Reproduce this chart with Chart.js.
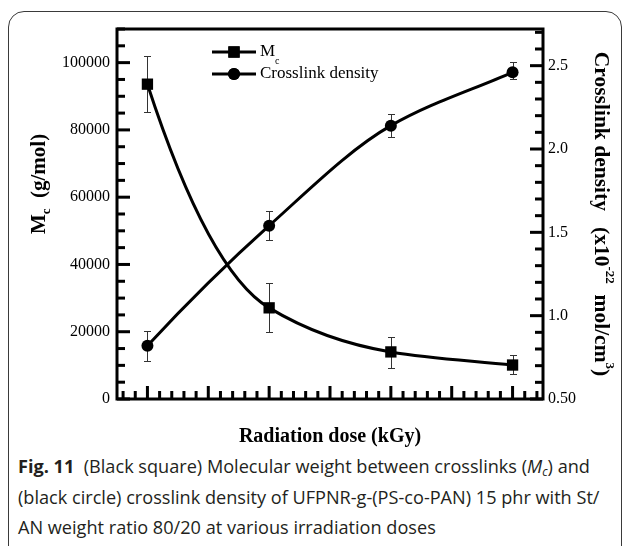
<!DOCTYPE html>
<html>
<head>
<meta charset="utf-8">
<script src="https://cdn.jsdelivr.net/npm/chart.js@4.4.1/dist/chart.umd.min.js"></script>
<style>
  html, body { margin: 0; padding: 0; background: #fff; }
  body { width: 630px; height: 546px; position: relative; overflow: hidden; }
  #frame {
    position: absolute; left: 8px; top: 11px; width: 614px; height: 580px;
    border: 1.5px solid #3a3a3a; border-radius: 16px; box-sizing: border-box;
  }
  #chartBox { position: absolute; left: 0; top: 0; width: 630px; height: 450px; }
  #caption {
    position: absolute; left: 18px; top: 451px;
    font-family: "Open Sans", sans-serif; font-size: 18px; line-height: 30.5px;
    color: #231f20; white-space: nowrap;
  }
  #caption span { display: block; }
  #caption sub { font-size: 0.65em; line-height: 0; vertical-align: -0.25em; }
</style>
</head>
<body>
<div id="frame"></div>
<div id="chartBox"><canvas id="doseChart" width="630" height="450"></canvas></div>
<div id="caption"><span id="capLine1"><b>Fig. 11</b>&nbsp; (Black square) Molecular weight between crosslinks (<i>M<sub>c</sub></i>) and</span><span>(black circle) crosslink density of UFPNR-g-(PS-co-PAN) 15 phr with St/</span><span>AN weight ratio 80/20 at various irradiation doses</span></div>
<script>
// Data
const doses = [0, 100, 200, 300];
const mcValues = [93600, 27100, 14000, 10100];
const mcErrLow = [85300, 19900, 9200, 7400];
const mcErrHigh = [102000, 34500, 18400, 13100];
const densityValues = [0.82, 1.54, 2.14, 2.46];
const densityErrLow = [0.73, 1.455, 2.07, 2.42];
const densityErrHigh = [0.91, 1.63, 2.21, 2.52];

// Tick labels
const xTickLabels = [0, 50, 100, 150, 200, 250, 300];
const leftTickLabels = [0, 20000, 40000, 60000, 80000, 100000];
const rightTickValues = [0.5, 1.0, 1.5, 2.0, 2.5];
const rightTickLabels = ["0.50", "1.0", "1.5", "2.0", "2.5"];

// Axis ranges
const xMin = -25, xMax = 325;
const leftMax = 110000;
const rightMin = 0.5, rightMax = 2.72;

const serif = "Liberation Serif";

// fit the caption's first line to the width it has in the figure
const capLine1 = document.getElementById("capLine1");
const caption = document.getElementById("caption");
const w1 = capLine1.getBoundingClientRect().width;
caption.style.fontSize = (18 * 582 / w1).toFixed(2) + "px";

// draws a run of text pieces (for sub/superscripts) centred on the current origin
function drawRuns(ctx, runs) {
  let total = 0;
  runs.forEach((r) => {
    ctx.font = r.font;
    total += ctx.measureText(r.text).width;
  });
  let x = -total / 2;
  runs.forEach((r) => {
    ctx.font = r.font;
    ctx.fillText(r.text, x, r.dy || 0);
    x += ctx.measureText(r.text).width;
  });
}

// smooth curve through the points (cubic Hermite, pixel space)
function drawSpline(ctx, pts) {
  const n = pts.length;
  const s = (i) => (pts[i + 1].y - pts[i].y) / (pts[i + 1].x - pts[i].x);
  const m = pts.map((p, i) => {
    if (i === 0 || i === n - 1) return 0;
    const a = s(i - 1), b = s(i);
    return a * b > 0 ? (2 * a * b) / (a + b) : 0;
  });
  m[0] = 2 * s(0) - m[1];
  m[n - 1] = s(n - 2);
  ctx.beginPath();
  ctx.moveTo(pts[0].x, pts[0].y);
  for (let i = 0; i < n - 1; i++) {
    const h = (pts[i + 1].x - pts[i].x) / 3;
    ctx.bezierCurveTo(
      pts[i].x + h, pts[i].y + m[i] * h,
      pts[i + 1].x - h, pts[i + 1].y - m[i + 1] * h,
      pts[i + 1].x, pts[i + 1].y
    );
  }
  ctx.stroke();
}

// ===================================
// CURVES AND ERROR BARS (under the markers)
// ===================================
const curvePlugin = {
  id: "curvePlugin",
  beforeDatasetsDraw(chart) {
    const { ctx, scales } = chart;
    ctx.save();
    ctx.strokeStyle = "#000";
    ctx.lineWidth = 3;
    ctx.lineJoin = "round";
    drawSpline(ctx, doses.map((d, i) => ({ x: scales.x.getPixelForValue(d), y: scales.y.getPixelForValue(mcValues[i]) })));
    drawSpline(ctx, doses.map((d, i) => ({ x: scales.x.getPixelForValue(d), y: scales.y1.getPixelForValue(densityValues[i]) })));

    ctx.lineWidth = 1;
    ctx.strokeStyle = "#333";
    const bars = [
      { scale: scales.y, lo: mcErrLow, hi: mcErrHigh },
      { scale: scales.y1, lo: densityErrLow, hi: densityErrHigh },
    ];
    bars.forEach((b) => {
      doses.forEach((d, i) => {
        const px = Math.round(scales.x.getPixelForValue(d)) + 0.5;
        const y1 = Math.round(b.scale.getPixelForValue(b.lo[i])) + 0.5;
        const y2 = Math.round(b.scale.getPixelForValue(b.hi[i])) + 0.5;
        ctx.beginPath();
        ctx.moveTo(px, y1);
        ctx.lineTo(px, y2);
        ctx.moveTo(px - 3.5, y1);
        ctx.lineTo(px + 3.5, y1);
        ctx.moveTo(px - 3.5, y2);
        ctx.lineTo(px + 3.5, y2);
        ctx.stroke();
      });
    });
    ctx.restore();
  },
};

// ===================================
// FRAME, INWARD TICKS, TITLES, LEGEND
// ===================================
const framePlugin = {
  id: "framePlugin",
  afterDraw(chart) {
    const { ctx, chartArea: a } = chart;
    const sx = chart.scales.x, sl = chart.scales.y, sr = chart.scales.y1;
    ctx.save();
    ctx.fillStyle = "#000";

    // frame
    ctx.strokeStyle = "#000";
    ctx.lineWidth = 3;
    ctx.strokeRect(a.left, a.top, a.right - a.left, a.bottom - a.top);

    // bottom ticks every 10, long every 50
    for (let v = -20; v <= 320; v += 10) {
      const px = sx.getPixelForValue(v);
      const len = v % 50 === 0 ? 13 : 8;
      ctx.fillRect(px - 1.5, a.bottom - len, 3, len);
    }
    // left ticks every 5000, long every 20000
    for (let k = 0; k <= 22; k++) {
      const py = sl.getPixelForValue(k * 5000);
      ctx.fillRect(a.left, py - 1.5, k % 4 === 0 ? 13 : 8, 3);
    }
    // right ticks every 0.1, long every 0.5
    for (let k = 5; k <= 27; k++) {
      const py = sr.getPixelForValue(k / 10);
      const len = k % 5 === 0 ? 13 : 8;
      ctx.fillRect(a.right - len, py - 1.5, len, 3);
    }

    // axis titles
    ctx.textBaseline = "middle";
    ctx.textAlign = "left";
    const big = "bold 20px " + serif;
    const big2 = "bold 21px " + serif;
    const small = "bold 13px " + serif;

    ctx.save();
    ctx.translate((a.left + a.right) / 2, 437);
    drawRuns(ctx, [{ text: "Radiation dose (kGy)", font: big }]);
    ctx.restore();

    ctx.save();
    ctx.translate(40, 184);
    ctx.rotate(-Math.PI / 2);
    drawRuns(ctx, [
      { text: "M", font: big2 },
      { text: "c", font: small, dy: 7 },
      { text: "  (g/mol)", font: big2 },
    ]);
    ctx.restore();

    ctx.save();
    ctx.translate(601, 214);
    ctx.rotate(Math.PI / 2);
    drawRuns(ctx, [
      { text: "Crosslink density   (x10", font: "bold 21.5px " + serif },
      { text: "-22", font: small, dy: -8 },
      { text: "  mol/cm", font: "bold 21.5px " + serif },
      { text: "3", font: small, dy: -8 },
      { text: ")", font: "bold 21.5px " + serif },
    ]);
    ctx.restore();

    // legend
    const legend = [
      { y: 52, style: "rect", label: [{ text: "M", font: "17px " + serif }, { text: "c", font: "10px " + serif, dy: 9 }] },
      { y: 74, style: "circle", label: [{ text: "Crosslink density", font: "17px " + serif }] },
    ];
    legend.forEach((l) => {
      ctx.fillRect(212, l.y - 1.5, 44, 3);
      Chart.helpers.drawPoint(ctx, { pointStyle: l.style, radius: l.style === "rect" ? 8 : 6, borderWidth: 0 }, 234, l.y);
      ctx.fill();
      let x = 260;
      l.label.forEach((r) => {
        ctx.font = r.font;
        ctx.fillText(r.text, x, l.y + (r.dy || 0));
        x += ctx.measureText(r.text).width;
      });
    });
    ctx.restore();
  },
};

const tickFont = { family: serif, size: 16 };

new Chart(document.getElementById("doseChart"), {
  type: "line",
  data: {
    datasets: [
      {
        label: "Mc",
        data: doses.map((d, i) => ({ x: d, y: mcValues[i] })),
        yAxisID: "y",
        showLine: false,
        borderColor: "#000",
        backgroundColor: "#000",
        pointStyle: "rect",
        pointRadius: 8,
        pointBorderWidth: 0,
      },
      {
        label: "Crosslink density",
        data: doses.map((d, i) => ({ x: d, y: densityValues[i] })),
        yAxisID: "y1",
        showLine: false,
        borderColor: "#000",
        backgroundColor: "#000",
        pointStyle: "circle",
        pointRadius: 6,
        pointBorderWidth: 0,
      },
    ],
  },
  options: {
    responsive: false,
    animation: false,
    layout: { padding: { top: 29, left: 0, right: 0, bottom: 0 } },
    plugins: { legend: { display: false }, tooltip: { enabled: false } },
    scales: {
      x: {
        type: "linear",
        min: xMin,
        max: xMax,
        afterFit: (s) => { s.height = 51; },
        grid: { display: false, drawTicks: false },
        border: { display: false },
        ticks: {
          stepSize: 10,
          autoSkip: false,
          maxRotation: 0,
          padding: 13,
          color: "#000",
          font: tickFont,
          callback: (v) => (xTickLabels.includes(v) ? String(v) : ""),
        },
      },
      y: {
        position: "left",
        min: 0,
        max: leftMax,
        afterFit: (s) => { s.width = 117; },
        grid: { display: false, drawTicks: false },
        border: { display: false },
        ticks: {
          stepSize: 5000,
          autoSkip: false,
          padding: 7,
          color: "#000",
          font: tickFont,
          callback: (v) => (leftTickLabels.includes(v) ? String(v) : ""),
        },
      },
      y1: {
        position: "right",
        min: rightMin,
        max: rightMax,
        afterFit: (s) => { s.width = 87; },
        grid: { display: false, drawTicks: false },
        border: { display: false },
        ticks: {
          stepSize: 0.1,
          autoSkip: false,
          padding: 5,
          color: "#000",
          font: tickFont,
          callback: (v) => {
            const i = rightTickValues.findIndex((t) => Math.abs(t - v) < 1e-6);
            return i >= 0 ? rightTickLabels[i] : "";
          },
        },
      },
    },
  },
  plugins: [curvePlugin, framePlugin],
});
</script>
</body>
</html>
